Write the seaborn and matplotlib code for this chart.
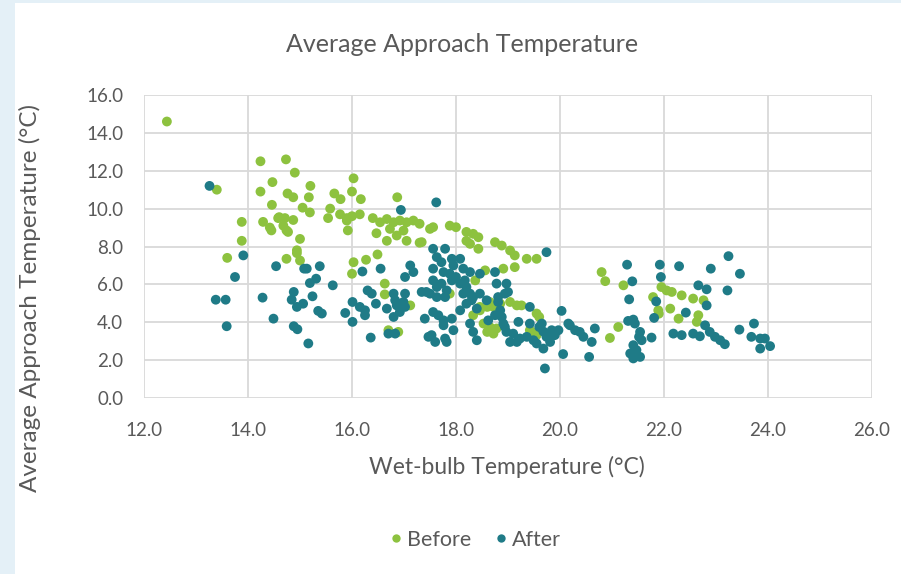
import pandas as pd
import matplotlib.pyplot as plt
import seaborn as sns
from matplotlib.patches import Rectangle

# Before: wet-bulb (C), approach (C)
before_x = [12.44, 13.4, 13.88, 13.88, 13.6, 14.24, 14.73, 14.9, 14.47, 14.24, 14.76, 14.87, 15.2, 15.17,
            14.46, 15.05, 15.19, 15.66, 15.78, 16.03, 16.0, 16.17, 15.58, 15.54, 15.9, 16.15, 16.4, 14.29,
            14.42, 14.58, 14.71, 14.87, 14.74, 14.45, 15.92, 16.47, 15.0, 14.94, 16.87, 15.77, 15.9, 16.0,
            16.54, 16.67, 16.8, 16.92, 17.05, 17.18, 17.3, 17.5, 16.67, 16.86, 17.05, 17.3, 16.73, 16.99,
            14.6, 14.68, 14.77, 14.94, 14.74, 15.0, 16.03, 16.27, 16.49, 17.56, 17.88, 18.0, 18.2, 18.33,
            18.43, 18.2, 18.43, 18.27, 18.75, 18.88, 19.04, 19.13, 19.36, 19.55, 19.13, 17.34, 18.91, 20.8,
            16.63, 16.63, 16.7, 16.89, 17.12, 17.88, 18.46, 18.6, 18.65, 18.72, 18.53, 18.65, 18.72, 18.6,
            18.78, 18.33, 19.04, 19.17, 19.26, 19.55, 19.6, 19.45, 19.55, 20.96, 21.12, 18.56, 20.87, 18.37,
            21.22, 21.79, 21.95, 22.05, 22.15, 22.34, 22.56, 22.76, 21.89, 22.12, 22.28, 22.66, 22.63, 21.9,
            18.46, 18.85, 19.42, 16.0]
before_y = [14.6, 11.0, 9.3, 8.3, 7.4, 12.5, 12.6, 11.9, 11.4, 10.9, 10.8, 10.6, 11.2, 10.6,
            10.2, 10.05, 9.8, 10.8, 10.5, 11.6, 10.9, 10.5, 10.0, 9.5, 9.5, 9.7, 9.5, 9.3,
            9.0, 9.5, 9.5, 9.4, 8.85, 8.85, 8.85, 8.7, 8.4, 7.65, 10.6, 9.7, 9.37, 9.6,
            9.28, 9.45, 9.28, 9.37, 9.28, 9.37, 9.2, 8.93, 8.3, 8.58, 8.3, 8.2, 8.93, 8.84,
            9.55, 9.1, 8.77, 7.8, 7.35, 7.26, 7.17, 7.3, 7.58, 9.02, 9.1, 9.02, 8.77, 8.67,
            8.49, 8.3, 7.88, 8.14, 8.23, 8.05, 7.79, 7.53, 7.35, 7.35, 6.91, 8.23, 6.83, 6.65,
            6.04, 5.47, 3.58, 3.49, 4.89, 5.51, 4.81, 4.81, 5.07, 4.81, 3.93, 3.75, 3.4, 3.49,
            3.67, 4.37, 5.07, 4.89, 4.89, 4.46, 4.28, 3.49, 3.32, 3.17, 3.75, 6.74, 6.17, 6.21,
            5.95, 5.33, 5.86, 5.68, 5.6, 5.42, 5.25, 5.16, 4.63, 4.72, 4.19, 4.37, 4.02, 4.45,
            4.63, 4.98, 3.58, 6.56]

# After
after_x = [13.26, 13.91, 13.75, 13.38, 13.57, 13.59, 14.28, 14.54, 14.49, 15.08, 15.13, 15.38, 14.88, 14.84,
           15.06, 14.94, 15.24, 15.19, 15.31, 15.63, 15.35, 15.42, 14.88, 14.95, 15.16, 16.2, 16.01, 16.15,
           16.25, 16.25, 15.87, 16.01, 16.3, 16.38, 16.46, 16.36, 16.55, 16.67, 16.8, 16.83, 16.86, 17.02,
           16.99, 17.02, 16.92, 16.8, 16.7, 16.83, 17.12, 17.18, 17.02, 17.34, 17.4, 17.47, 17.53, 17.6,
           17.79, 17.82, 17.56, 17.66, 17.76, 17.76, 17.95, 17.92, 18.08, 17.88, 17.92, 18.0, 18.08, 18.17,
           18.2, 18.14, 18.27, 18.3, 18.2, 17.63, 17.72, 17.82, 17.79, 17.63, 17.5, 18.46, 18.75, 18.78,
           18.97, 19.0, 18.94, 18.4, 18.62, 18.27, 18.33, 18.4, 18.81, 18.85, 18.88, 18.91, 18.97, 19.04,
           19.17, 19.2, 19.42, 19.42, 19.65, 19.68, 19.74, 19.84, 19.9, 19.81, 19.68, 19.36, 19.49, 19.55,
           19.71, 20.03, 20.06, 20.19, 20.29, 20.45, 20.61, 20.67, 20.56, 16.94, 17.62, 19.74, 17.56, 17.79,
           17.63, 17.72, 17.92, 18.08, 17.95, 17.56, 18.14, 18.27, 17.56, 17.76, 18.33, 18.46, 18.59, 18.81,
           18.75, 17.43, 18.94, 19.1, 19.23, 19.6, 19.97, 20.16, 20.38, 21.29, 21.92, 22.29, 23.24, 23.46,
           22.9, 21.39, 21.94, 21.33, 22.66, 22.82, 23.22, 21.85, 22.82, 22.42, 21.81, 21.31, 21.41, 21.44,
           21.54, 21.57, 21.52, 21.76, 21.41, 21.35, 21.41, 21.54, 21.47, 22.18, 22.34, 22.56, 22.69, 22.79,
           22.88, 22.98, 23.08, 23.17, 23.45, 23.73, 23.68, 23.85, 23.94, 23.85, 24.04]
after_y = [11.2, 7.53, 6.39, 5.19, 5.19, 3.79, 5.3, 6.96, 4.19, 6.83, 6.83, 6.96, 5.6, 5.19,
           4.98, 4.81, 5.37, 6.07, 6.3, 5.95, 4.6, 4.46, 3.79, 3.63, 2.88, 6.68, 5.07, 4.81,
           4.63, 4.37, 4.49, 4.02, 5.68, 5.51, 4.98, 3.19, 6.83, 4.72, 5.51, 5.16, 4.89, 5.51,
           5.07, 4.81, 4.54, 4.28, 3.4, 3.4, 7.0, 6.65, 6.39, 5.6, 4.19, 3.23, 3.32, 2.96,
           3.14, 2.96, 4.54, 4.37, 4.1, 3.84, 3.58, 4.19, 4.63, 6.56, 6.21, 6.39, 6.04, 6.21,
           5.86, 5.51, 5.51, 5.16, 4.98, 5.86, 6.04, 5.68, 5.33, 5.33, 5.51, 6.56, 6.65, 6.04,
           6.04, 5.6, 5.51, 4.72, 4.1, 3.93, 3.49, 3.05, 5.07, 4.63, 4.28, 3.93, 3.49, 2.96,
           2.96, 4.02, 3.93, 4.81, 3.93, 3.51, 3.23, 3.58, 3.32, 2.96, 2.61, 3.23, 3.05, 2.88,
           1.56, 4.6, 2.32, 3.84, 3.58, 3.23, 2.96, 3.67, 2.17, 9.93, 10.33, 7.7, 7.88, 7.88,
           7.44, 7.17, 7.35, 7.35, 7.0, 6.83, 6.83, 6.65, 6.21, 6.65, 5.33, 5.51, 5.16, 5.33,
           4.37, 5.6, 3.75, 3.4, 3.14, 3.75, 3.58, 3.93, 3.49, 7.04, 7.04, 6.96, 7.49, 6.56,
           6.83, 6.16, 6.39, 5.21, 5.95, 5.74, 5.68, 5.1, 4.89, 4.51, 4.23, 4.07, 4.14, 3.93,
           3.49, 3.05, 3.23, 3.19, 2.79, 2.35, 2.09, 2.17, 2.53, 3.4, 3.32, 3.4, 3.26, 3.84,
           3.49, 3.23, 3.05, 2.84, 3.61, 3.93, 3.23, 3.14, 3.14, 2.61, 2.74]

df = pd.DataFrame({
    'wetbulb': before_x + after_x,
    'approach': before_y + after_y,
    'period': ['Before'] * len(before_x) + ['After'] * len(after_x),
})

sns.set_style("white")
plt.rcParams['font.family'] = ['Lato', 'DejaVu Sans']
grey = '#595959'
colors = {'Before': '#8DC23F', 'After': '#1F7B87'}

fig = plt.figure(figsize=(9.01, 5.74), dpi=100, facecolor='#E4F0F7')
# white chart panel on the light blue page
fig.patches.append(Rectangle((15 / 901, 0), 1, 1 - 3 / 574, transform=fig.transFigure,
                             facecolor='white', edgecolor='none', zorder=-5))
ax = fig.add_axes([144 / 901, 1 - 398 / 574, 728 / 901, 303 / 574])
ax.set_zorder(2)
ax.set_facecolor('white')

sns.scatterplot(data=df, x='wetbulb', y='approach', hue='period', palette=colors,
                hue_order=['Before', 'After'], s=50, edgecolor='none', linewidth=0,
                ax=ax, legend=False, zorder=3)

ax.set_xlim(12, 26)
ax.set_ylim(0, 16)
ax.set_xticks([12 + 2 * i for i in range(8)])
ax.set_yticks([2 * i for i in range(9)])
ax.set_xticklabels([f'{12 + 2 * i:.1f}' for i in range(8)])
ax.set_yticklabels([f'{2 * i:.1f}' for i in range(9)])
ax.grid(True, color='#D9D9D9', linewidth=1.3)
ax.set_axisbelow(True)
for s in ax.spines.values():
    s.set_visible(False)
ax.tick_params(axis='both', length=0, labelsize=13.5, labelcolor=grey)
ax.tick_params(axis='x', pad=17)
ax.tick_params(axis='y', pad=15)
ax.set_xlabel('')
ax.set_ylabel('')

fig.text(507 / 901, 1 - 467 / 574, 'Wet-bulb Temperature (°C)', ha='center', va='center',
         fontsize=16.5, color=grey)
fig.text(30 / 901, 1 - 298 / 574, 'Average Approach Temperature (°C)', ha='center', va='center',
         rotation=90, fontsize=17.5, color=grey)
fig.text(462 / 901, 1 - 45 / 574, 'Average Approach Temperature', ha='center', va='center',
         fontsize=18, color=grey)

handles = [plt.Line2D([], [], marker='o', linestyle='none', markersize=6,
                      markerfacecolor=colors[k], markeredgecolor='none', label=k)
           for k in ['Before', 'After']]
fig.legend(handles=handles, loc='center', bbox_to_anchor=(472 / 901, 1 - 540 / 574), ncol=2,
           frameon=False, fontsize=15.5, labelcolor=grey, handletextpad=-0.1,
           columnspacing=0.8, handlelength=1.2)

plt.savefig('out.png', dpi=100, facecolor=fig.get_facecolor())
